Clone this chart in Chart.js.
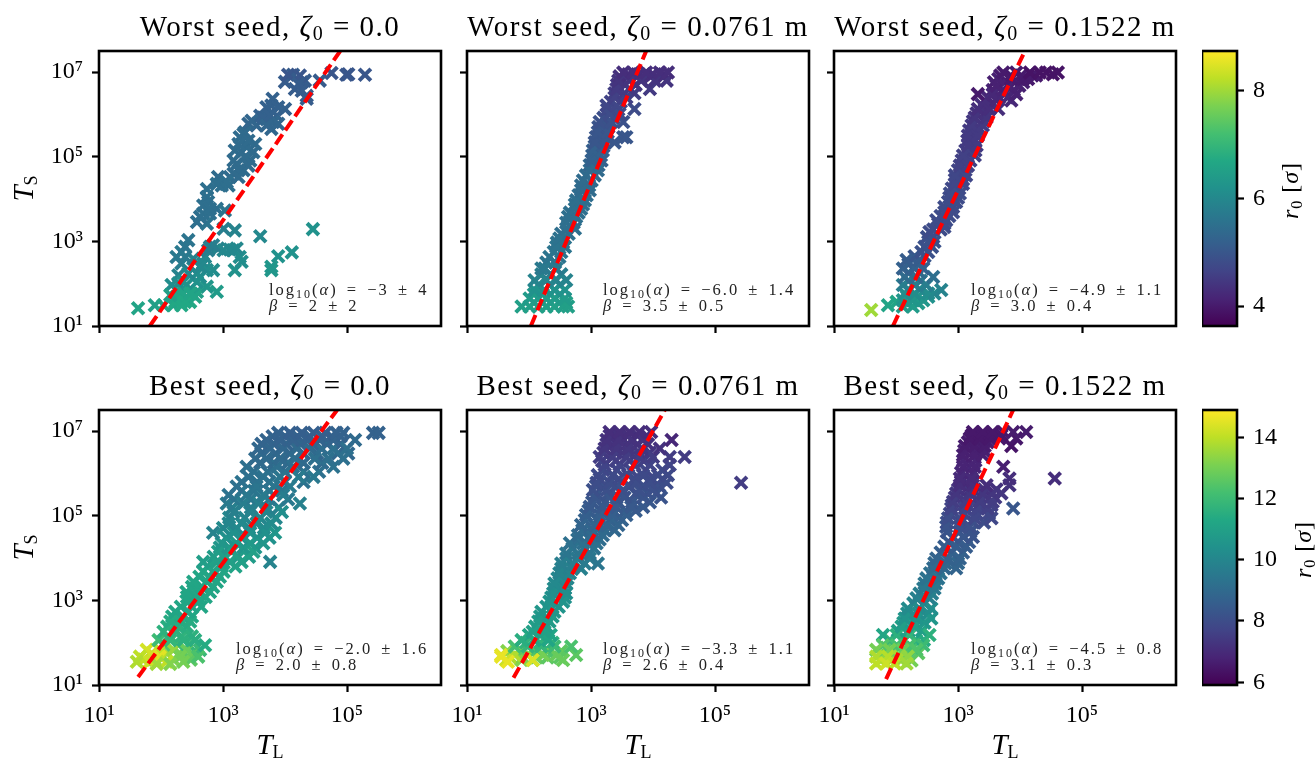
<!DOCTYPE html>
<html>
<head>
<meta charset="utf-8">
<style>
  html, body { margin: 0; padding: 0; background: #fff; width: 1315px; height: 758px; overflow: hidden; }
  canvas { position: absolute; }
</style>
<script src="https://cdn.jsdelivr.net/npm/chart.js@4"></script>
</head>
<body>
<script>
// all T_L / T_S values are log10
const worstZeroLogTL = [
  5.29,5.02,4.99,4.75,4.56,4.13,4.00,4.27,4.32,4.16,
  4.35,4.35,3.80,3.78,4.00,3.60,3.70,3.87,3.81,3.78,
  3.41,3.54,3.35,3.27,3.52,3.38,3.19,3.30,3.44,3.22,
  3.33,3.17,2.92,2.98,3.09,2.74,2.74,2.76,2.90,3.03,
  2.68,2.58,2.74,3.01,3.19,3.60,4.45,2.44,2.33,2.79,
  2.92,3.17,3.27,4.11,3.89,3.78,3.78,3.19,2.84,2.33,
  2.68,2.58,2.28,2.17,2.36,2.74,2.90,2.49,2.41,2.31,
  2.20,2.47,1.90,1.63,2.04,2.63,2.52,2.31,2.58,3.30,
  3.11,2.71,
  4.05,4.24,4.22,4.27,3.70,3.89,3.65,3.76,3.89,3.70,
  3.46,3.33,3.41,3.25,3.49,3.35,3.17,3.41,3.25,3.11,
  3.25,3.06,2.90,2.68,2.79,2.63,2.79,2.39,2.25,2.39,
  2.76,2.84,3.01,3.22,2.28,2.41,2.58,2.44,2.74,2.63,
  2.25,2.36,2.55,2.39,2.23,2.33,2.47,2.15];
const worstZeroLogTS = [
  6.94,6.95,6.94,6.98,6.80,6.94,6.77,6.76,6.80,6.60,
  6.44,6.37,6.37,6.21,6.13,5.97,5.89,5.97,5.82,5.66,
  5.78,5.74,5.58,5.46,5.30,5.23,5.15,5.11,4.91,4.83,
  4.68,4.60,4.52,4.32,4.32,4.24,4.05,3.93,3.77,3.73,
  3.66,3.46,3.42,3.30,3.26,3.12,3.29,3.03,2.75,2.87,
  2.83,2.79,2.63,2.74,2.65,2.40,2.32,2.32,2.32,2.48,
  2.48,2.24,2.20,1.97,2.04,1.93,1.81,1.77,1.69,1.61,
  1.49,1.57,1.49,1.42,1.49,2.16,2.59,1.73,1.81,2.52,
  2.81,2.63,
  6.94,6.92,6.72,6.56,6.17,6.17,5.93,5.97,5.78,5.74,
  5.85,5.54,5.38,5.30,5.11,4.99,4.91,4.79,4.68,4.52,
  4.52,4.40,4.36,3.85,3.66,3.58,3.77,2.87,2.63,2.63,
  2.79,2.91,2.79,2.83,2.01,1.97,2.04,2.24,2.32,2.40,
  1.69,1.77,1.69,1.57,1.57,1.49,1.77,1.73];
const worstZeroR0 = [
  5.0,5.0,5.0,5.0,5.1,5.1,5.1,5.1,5.1,5.1,
  5.1,5.1,5.2,5.2,5.2,5.2,5.3,5.2,5.3,5.3,
  5.3,5.3,5.4,5.4,5.4,5.4,5.4,5.4,5.4,5.4,
  5.4,5.4,5.4,5.5,5.5,5.5,5.5,5.5,5.5,5.6,
  5.5,5.5,5.6,5.8,5.9,6.0,6.2,5.6,5.7,5.8,
  5.9,6.0,6.1,6.2,6.2,6.3,6.3,6.2,6.1,5.8,
  6.0,6.1,5.9,6.1,6.2,6.3,6.4,6.5,6.6,6.7,
  6.6,6.7,6.5,6.6,6.6,6.1,5.9,6.6,6.5,6.1,
  6.0,6.0,
  5.0,5.0,5.1,5.1,5.2,5.2,5.2,5.2,5.3,5.3,
  5.3,5.4,5.4,5.4,5.4,5.4,5.4,5.4,5.4,5.4,
  5.4,5.5,5.5,5.5,5.5,5.5,5.5,5.6,5.7,5.7,
  5.8,5.8,6.0,6.0,6.1,6.2,6.2,6.0,6.1,6.0,
  6.6,6.6,6.6,6.7,6.7,6.7,6.6,6.5];

const worstMidLogTL = [
  2.08,2.22,2.35,2.49,2.60,
  2.08,2.22,2.35,2.50,
  2.15,2.33,2.50,
  2.20,2.35,2.52,
  2.28,2.42,
  2.40,2.52,
  2.45,2.55,
  2.52,2.64,
  2.60,2.72,
  2.66,2.80,
  2.74,2.87,
  2.80,2.93,
  2.84,2.97,
  2.92,3.06,
  2.98,3.12,
  3.02,3.16,
  3.06,3.20,
  3.08,3.24,
  3.12,3.28,
  3.20,3.36,
  3.26,3.44,
  3.32,3.48,
  3.38,3.54,3.70,
  3.42,3.55,3.72,
  3.46,3.58,3.74,3.96,4.17,
  3.60,3.78,4.00,4.18,
  1.88,2.01,2.15,2.28,2.41,2.55,2.63,
  2.01,2.15,2.28,2.41,2.58,
  2.09,2.25,2.41,2.58,
  2.09,2.28,2.44,2.60,
  2.25,2.44,2.20,
  2.33,2.49,
  2.44,2.58,
  2.49,
  2.60,2.74,
  2.63,2.76,
  2.74,2.84,
  2.76,2.90,
  2.84,2.98,
  2.87,3.01,
  2.98,3.11,
  3.01,3.17,
  3.03,3.19,
  3.06,3.22,3.38,
  3.52,3.57,
  3.11,3.27,
  3.14,3.33,3.52,
  3.30,3.46,
  3.70,
  3.25,3.41,
  3.38,3.57,
  3.41,3.62,3.95,
  3.44,3.62,3.81,4.03,4.22,
  3.52,3.68,3.89,4.11,4.24];
const worstMidLogTS = [
  1.55,1.55,1.55,1.55,1.55,
  1.75,1.75,1.75,1.75,
  1.97,1.97,1.97,
  2.22,2.22,2.22,
  2.50,2.50,
  2.75,2.75,
  2.97,2.97,
  3.18,3.18,
  3.44,3.44,
  3.68,3.68,
  3.87,3.87,
  4.09,4.09,
  4.32,4.32,
  4.56,4.56,
  4.80,4.80,
  5.03,5.03,
  5.25,5.25,
  5.46,5.46,
  5.70,5.70,
  5.92,5.92,
  6.11,6.11,
  6.30,6.30,
  6.50,6.50,6.50,
  6.70,6.70,6.70,
  6.90,6.90,6.90,6.90,6.90,
  6.95,6.95,6.95,6.95,
  1.46,1.46,1.46,1.46,1.46,1.46,1.46,
  1.65,1.65,1.65,1.65,1.65,
  1.85,1.85,1.85,1.85,
  2.08,2.08,2.08,2.08,
  2.36,2.36,2.36,
  2.63,2.63,
  2.87,2.87,
  3.07,
  3.30,3.30,
  3.58,3.58,
  3.77,3.77,
  3.97,3.97,
  4.21,4.21,
  4.44,4.44,
  4.68,4.68,
  4.91,4.91,
  5.15,5.15,
  5.34,5.34,5.34,
  5.46,5.46,
  5.58,5.58,
  5.82,5.82,5.82,
  6.01,6.01,
  6.13,
  6.21,6.21,
  6.40,6.40,
  6.60,6.60,6.60,
  6.80,6.80,6.80,6.80,6.80,
  6.99,6.99,6.99,6.99,6.99];
const worstMidR0 = [
  6.5,6.5,6.5,6.5,6.5,
  6.3,6.3,6.3,6.3,
  6.0,6.0,6.0,
  5.8,5.8,5.8,
  5.6,5.6,
  5.6,5.6,
  5.55,5.55,
  5.5,5.5,
  5.5,5.5,
  5.5,5.5,
  5.5,5.5,
  5.45,5.45,
  5.4,5.4,
  5.4,5.4,
  5.3,5.3,
  5.2,5.2,
  5.1,5.1,
  5.0,5.0,
  4.95,4.95,
  4.85,4.85,
  4.75,4.75,
  4.65,4.65,
  4.55,4.55,4.55,
  4.45,4.45,4.45,
  4.35,4.35,4.35,4.35,4.35,
  4.3,4.3,4.3,4.3,
  6.5,6.5,6.5,6.5,6.5,6.5,6.5,
  6.4,6.4,6.4,6.4,6.4,
  6.2,6.2,6.2,6.2,
  5.9,5.9,5.9,5.9,
  5.7,5.7,5.7,
  5.6,5.6,
  5.6,5.6,
  5.55,
  5.5,5.5,
  5.5,5.5,
  5.5,5.5,
  5.5,5.5,
  5.4,5.4,
  5.4,5.4,
  5.4,5.4,
  5.2,5.2,
  5.2,5.2,
  5.0,5.0,5.0,
  5.0,5.0,
  5.0,5.0,
  4.9,4.9,4.9,
  4.8,4.8,
  4.8,
  4.7,4.7,
  4.6,4.6,
  4.5,4.5,4.5,
  4.4,4.4,4.4,4.4,4.4,
  4.3,4.3,4.3,4.3,4.3];

const worstHighLogTL = [
  2.18,2.36,
  2.18,2.35,2.52,
  2.20,2.38,
  2.20,2.40,
  2.20,2.38,
  2.20,2.35,
  2.30,2.46,
  2.46,2.58,
  2.50,2.60,
  2.60,2.72,
  2.68,2.78,
  2.72,2.86,
  2.78,2.92,
  2.86,3.00,
  2.90,3.02,
  2.95,3.08,
  3.00,3.12,
  3.06,3.20,
  3.12,3.28,
  3.15,3.28,
  3.18,3.34,
  3.24,3.42,
  3.30,3.45,
  3.38,3.54,
  3.48,3.66,3.80,
  3.56,3.72,3.90,
  3.58,3.75,3.92,4.05,
  3.68,3.85,4.02,4.20,4.26,
  1.60,1.87,2.01,
  2.11,2.27,
  2.11,2.27,2.44,
  2.14,2.30,2.52,2.62,
  2.73,
  2.11,2.30,2.49,
  2.60,
  2.14,2.33,
  2.11,2.30,2.44,
  2.17,2.38,
  2.41,2.52,
  2.52,2.62,
  2.54,
  2.78,
  2.65,2.81,
  2.78,2.92,
  2.84,2.97,
  2.87,3.03,
  2.95,3.08,
  2.95,3.13,
  3.03,3.16,
  3.08,3.27,
  3.16,3.30,
  3.16,3.32,
  3.22,3.40,
  3.27,3.46,
  3.32,3.51,3.65,
  3.43,3.62,3.86,
  3.32,3.56,3.75,3.94,
  3.62,3.81,3.99,
  3.65,3.86,4.05,4.13,
  3.73,3.94,4.16,4.32,4.42,4.61,
  4.53];
const worstHighLogTS = [
  1.54,1.54,
  1.69,1.69,1.69,
  1.87,1.87,
  2.07,2.07,
  2.26,2.26,
  2.46,2.46,
  2.65,2.65,
  2.87,2.87,
  3.10,3.10,
  3.28,3.28,
  3.42,3.42,
  3.60,3.60,
  3.81,3.81,
  4.03,4.03,
  4.25,4.25,
  4.46,4.46,
  4.68,4.68,
  4.91,4.91,
  5.15,5.15,
  5.38,5.38,
  5.62,5.62,
  5.84,5.84,
  6.03,6.03,
  6.23,6.23,
  6.40,6.40,6.40,
  6.58,6.58,6.58,
  6.76,6.76,6.76,6.76,
  6.92,6.92,6.92,6.92,6.92,
  1.38,1.49,1.57,
  1.46,1.46,
  1.61,1.61,1.61,
  1.77,1.77,1.77,1.77,
  1.85,
  1.97,1.97,1.97,
  2.16,
  2.16,2.16,
  2.36,2.36,2.36,
  2.56,2.56,
  2.75,2.75,
  2.99,2.99,
  3.22,
  3.34,
  3.50,3.50,
  3.69,3.69,
  3.93,3.93,
  4.13,4.13,
  4.36,4.36,
  4.56,4.56,
  4.79,4.79,
  5.03,5.03,
  5.27,5.27,
  5.50,5.50,
  5.74,5.74,
  5.93,5.93,
  6.13,6.13,6.13,
  6.33,6.33,6.33,
  6.48,6.48,6.48,6.48,
  6.68,6.68,6.68,
  6.84,6.84,6.84,6.84,
  6.99,6.99,6.99,6.99,6.99,6.99,
  6.95];
const worstHighR0 = [
  6.4,6.4,
  6.2,6.2,6.2,
  6.0,6.0,
  5.7,5.7,
  5.4,5.4,
  5.1,5.1,
  5.0,5.0,
  4.9,4.9,
  4.85,4.85,
  4.8,4.8,
  4.8,4.8,
  4.8,4.8,
  4.8,4.8,
  4.8,4.8,
  4.75,4.75,
  4.7,4.7,
  4.65,4.65,
  4.6,4.6,
  4.55,4.55,
  4.5,4.5,
  4.5,4.5,
  4.45,4.45,
  4.35,4.35,
  4.3,4.3,
  4.2,4.2,4.2,
  4.15,4.15,4.15,
  4.05,4.05,4.05,4.05,
  4.0,4.0,4.0,4.0,4.0,
  8.0,6.6,6.6,
  6.4,6.4,
  6.3,6.3,6.3,
  6.1,6.1,6.1,6.0,
  5.9,
  5.8,5.8,5.8,
  5.5,
  5.4,5.4,
  5.2,5.2,5.2,
  5.1,5.1,
  4.9,4.9,
  4.9,4.9,
  4.8,
  4.8,
  4.8,4.8,
  4.8,4.8,
  4.8,4.8,
  4.8,4.8,
  4.7,4.7,
  4.7,4.7,
  4.6,4.6,
  4.6,4.6,
  4.5,4.5,
  4.5,4.5,
  4.5,4.5,
  4.4,4.4,
  4.3,4.3,4.3,
  4.3,4.2,4.2,
  4.0,4.2,4.2,4.1,
  4.1,4.1,4.1,
  4.1,4.0,4.0,4.0,
  4.0,4.0,3.9,3.9,3.9,3.9,
  3.9];

const bestZeroLogTL = [
  1.72,1.90,2.20,2.48,
  1.85,2.10,2.30,2.50,
  2.05,2.28,2.45,
  2.12,2.33,2.50,
  2.10,2.28,2.42,
  2.18,2.35,2.50,
  2.32,2.50,2.65,
  2.42,2.58,2.72,
  2.50,2.66,2.84,
  2.62,2.78,2.95,
  2.75,2.98,3.20,
  2.85,3.03,3.25,3.42,
  2.95,3.10,3.33,3.52,
  3.05,3.30,3.55,3.75,
  3.00,3.22,3.42,3.66,
  3.10,3.35,3.60,3.85,
  3.15,3.45,3.70,3.90,
  3.18,3.45,3.75,4.05,
  3.30,3.50,3.75,3.95,
  3.30,3.55,3.75,4.00,4.30,
  3.50,3.72,4.00,4.30,4.55,
  3.60,3.82,4.05,4.30,4.60,
  3.62,3.85,4.08,4.30,4.52,4.85,5.02,
  3.62,3.82,4.02,4.25,4.45,4.68,4.90,
  3.80,4.00,4.20,4.40,4.60,4.75,4.90,
  1.98,2.20,2.41,1.77,2.63,
  2.60,1.66,1.98,2.31,
  1.61,1.82,2.09,2.36,
  1.93,2.15,
  1.96,2.15,2.36,2.55,2.71,
  2.04,2.25,
  2.15,2.31,2.47,
  2.23,2.44,
  2.44,2.60,
  2.41,2.63,2.79,
  2.52,2.74,2.90,
  2.68,2.84,3.01,
  2.68,2.90,3.11,3.30,3.76,
  2.92,3.14,3.49,
  2.98,3.22,3.44,3.65,
  2.84,3.17,3.44,3.68,3.84,
  3.09,3.30,3.54,3.78,
  3.17,3.44,3.70,3.95,
  3.06,3.33,3.57,4.24,
  3.09,3.38,3.65,3.97,
  3.22,3.54,3.82,4.08,
  3.41,3.65,3.92,4.22,4.46,
  3.38,3.87,4.13,4.78,
  3.52,3.70,3.92,4.16,4.48,4.70,4.94,
  3.57,3.76,3.97,4.19,4.40,4.59,4.78,5.00,
  3.70,3.92,4.13,4.35,4.56,4.78,5.13,
  3.89,4.08,4.27,4.46,4.65,4.83,4.94,5.42,5.51];
const bestZeroLogTS = [
  1.60,1.60,1.60,1.60,
  1.75,1.75,1.75,1.75,
  1.95,1.95,1.95,
  2.15,2.15,2.15,
  2.38,2.38,2.38,
  2.62,2.62,2.62,
  2.85,2.85,2.85,
  3.08,3.08,3.08,
  3.32,3.32,3.32,
  3.56,3.56,3.56,
  3.80,3.80,3.80,
  4.03,4.03,4.03,4.03,
  4.25,4.25,4.25,4.25,
  4.48,4.48,4.48,4.48,
  4.71,4.71,4.71,4.71,
  4.95,4.95,4.95,4.95,
  5.19,5.19,5.19,5.19,
  5.39,5.39,5.39,5.39,
  5.59,5.59,5.59,5.59,
  5.80,5.80,5.80,5.80,5.80,
  6.04,6.04,6.04,6.04,6.04,
  6.25,6.25,6.25,6.25,6.25,
  6.47,6.47,6.47,6.47,6.47,6.47,6.47,
  6.70,6.70,6.70,6.70,6.70,6.70,6.70,
  6.88,6.88,6.88,6.88,6.88,6.88,6.88,
  1.83,1.83,1.83,1.83,1.83,
  1.67,1.67,1.67,1.67,
  1.55,1.55,1.55,1.55,
  1.50,1.50,
  2.06,2.06,2.06,2.06,1.94,
  2.26,2.26,
  2.50,2.50,2.50,
  2.73,2.73,
  2.97,2.97,
  3.20,3.20,3.20,
  3.44,3.44,3.44,
  3.68,3.68,3.68,
  3.91,3.91,3.91,3.91,3.91,
  4.15,4.15,4.15,
  4.35,4.35,4.35,4.35,
  4.60,4.60,4.60,4.60,4.60,
  4.82,4.82,4.82,4.82,
  5.09,5.09,5.09,5.09,
  5.29,5.29,5.29,5.29,
  5.49,5.49,5.49,5.49,
  5.69,5.69,5.69,5.69,
  5.92,5.92,5.92,5.92,5.92,
  6.16,6.16,6.16,6.16,
  6.35,6.35,6.35,6.35,6.35,6.35,6.35,
  6.59,6.59,6.59,6.59,6.59,6.59,6.59,6.59,
  6.79,6.79,6.79,6.79,6.79,6.79,6.79,
  6.96,6.96,6.96,6.96,6.96,6.96,6.96,6.96,6.96];
const bestZeroR0 = [
  14.0,13.6,13.2,12.6,
  14.2,13.6,13.0,12.6,
  12.4,12.0,11.8,
  11.8,11.7,11.6,
  11.5,11.5,11.5,
  11.3,11.3,11.3,
  11.2,11.2,11.2,
  11.2,11.2,11.2,
  11.2,11.2,11.2,
  11.2,11.2,11.2,
  11.1,11.1,11.1,
  10.8,10.8,10.8,10.8,
  10.6,10.6,10.6,10.6,
  10.4,10.4,10.4,10.4,
  10.2,10.2,10.2,10.2,
  10.0,10.0,10.0,10.0,
  9.8,9.8,9.8,9.8,
  9.5,9.5,9.5,9.5,
  9.4,9.4,9.4,9.4,
  9.3,9.3,9.3,9.3,9.3,
  9.2,9.2,9.2,9.2,9.2,
  9.0,9.0,9.0,9.0,9.0,
  8.9,8.9,8.9,8.9,8.9,8.9,8.9,
  8.8,8.8,8.8,8.8,8.8,8.8,8.8,
  8.7,8.7,8.7,8.7,8.7,8.7,8.7,
  14.0,13.5,12.8,14.3,11.9,
  12.3,14.0,14.5,13.0,
  13.8,14.2,14.0,13.0,
  13.6,13.2,
  12.0,11.8,11.6,11.5,11.4,
  11.6,11.6,
  11.4,11.4,11.4,
  11.2,11.2,
  11.2,11.2,
  11.2,11.2,11.2,
  11.2,11.2,11.2,
  11.2,11.2,11.2,
  10.9,11.0,11.0,11.0,9.9,
  10.9,11.0,11.0,
  10.6,10.7,10.7,10.6,
  9.9,10.4,10.4,10.4,10.6,
  10.0,10.1,10.2,10.2,
  9.8,9.9,10.0,10.3,
  9.6,9.7,9.8,9.8,
  9.3,9.5,9.6,9.7,
  9.2,9.4,9.4,9.6,
  9.2,9.3,9.4,9.6,9.5,
  9.2,9.2,9.3,9.3,
  9.0,9.0,9.0,9.1,9.2,9.2,9.2,
  8.9,8.9,8.9,9.0,9.0,9.1,9.2,9.2,
  8.8,8.7,8.7,8.7,8.8,8.8,9.0,
  8.7,8.6,8.6,8.6,8.6,8.7,8.7,8.7,8.7];

const bestMidLogTL = [
  1.70,1.90,2.12,2.30,2.50,
  1.65,1.88,2.08,2.30,2.52,
  1.95,2.18,2.38,
  2.00,2.18,2.35,
  2.10,2.28,
  2.18,2.38,
  2.28,2.48,
  2.36,2.58,
  2.40,2.58,2.48,
  2.46,2.62,
  2.52,2.70,2.84,
  2.60,2.78,2.98,
  2.70,2.90,3.05,
  2.78,2.98,3.14,
  2.86,3.02,3.22,3.38,
  2.90,3.10,3.30,3.50,
  2.96,3.16,3.36,3.56,3.72,
  3.02,3.22,3.44,3.66,3.95,
  3.08,3.28,3.50,3.72,3.92,4.05,
  3.08,3.20,3.42,3.62,3.85,4.10,
  3.14,3.45,3.70,3.95,4.15,
  3.20,3.42,3.64,3.88,4.15,
  3.18,3.40,3.62,3.85,
  3.20,3.40,3.60,3.78,3.95,
  3.25,3.42,3.60,3.75,3.92,
  3.30,3.45,3.60,3.75,3.90,
  1.63,1.88,2.06,2.55,
  1.55,1.77,1.98,2.23,2.44,2.76,
  1.77,1.98,2.20,2.41,2.68,
  1.88,2.09,2.31,
  2.06,2.25,
  2.15,2.33,
  2.20,2.41,
  2.33,2.55,
  2.39,2.60,
  2.41,2.60,
  2.49,2.66,
  2.52,2.71,2.90,3.11,
  2.60,2.79,2.98,
  2.66,2.87,3.09,
  2.79,3.01,3.19,
  2.84,3.06,3.25,3.44,
  2.92,3.14,3.35,3.57,
  2.98,3.19,3.41,3.65,3.84,
  3.06,3.30,3.54,3.84,4.13,
  3.03,3.25,3.52,3.78,4.00,
  3.09,3.30,3.73,3.95,4.22,5.42,
  3.11,3.35,3.60,3.84,4.08,4.24,
  3.22,3.46,3.70,3.95,4.27,
  3.14,3.35,3.57,3.78,4.00,4.27,4.51,
  3.22,3.41,3.60,3.81,4.11,
  3.25,3.44,3.65,3.84,4.30,
  3.30,3.46,3.62,3.78,3.97,
  1.55,1.66,2.06];
const bestMidLogTS = [
  1.65,1.65,1.65,1.65,1.65,
  1.80,1.80,1.80,1.80,1.80,
  2.00,2.00,2.00,
  2.18,2.18,2.18,
  2.38,2.38,
  2.62,2.62,
  2.85,2.85,
  3.07,3.07,
  3.28,3.28,3.28,
  3.52,3.52,
  3.75,3.75,3.75,
  3.99,3.99,3.99,
  4.23,4.23,4.23,
  4.44,4.44,4.44,
  4.66,4.66,4.66,4.66,
  4.90,4.90,4.90,4.90,
  5.12,5.12,5.12,5.12,5.12,
  5.32,5.32,5.32,5.32,5.32,
  5.52,5.52,5.52,5.52,5.52,5.52,
  5.70,5.70,5.70,5.70,5.70,5.70,
  5.87,5.87,5.87,5.87,5.87,
  6.08,6.08,6.08,6.08,6.08,
  6.30,6.30,6.30,6.30,
  6.49,6.49,6.49,6.49,6.49,
  6.69,6.69,6.69,6.69,6.69,
  6.89,6.89,6.89,6.89,6.89,
  1.59,1.59,1.59,1.59,
  1.71,1.71,1.71,1.71,1.71,1.71,
  1.91,1.91,1.91,1.91,1.91,
  2.06,2.06,2.06,
  2.26,2.26,
  2.50,2.50,
  2.73,2.73,
  2.97,2.97,
  3.17,3.17,
  3.40,3.40,
  3.64,3.64,
  3.87,3.87,3.87,3.87,
  4.11,4.11,4.11,
  4.35,4.35,4.35,
  4.54,4.54,4.54,
  4.78,4.78,4.78,4.78,
  5.02,5.02,5.02,5.02,
  5.21,5.21,5.21,5.21,5.21,
  5.43,5.43,5.43,5.43,5.43,
  5.61,5.61,5.61,5.61,5.61,
  5.78,5.78,5.78,5.78,5.78,5.78,
  5.96,5.96,5.96,5.96,5.96,5.96,
  6.20,6.20,6.20,6.20,6.20,
  6.39,6.39,6.39,6.39,6.39,6.39,6.39,
  6.59,6.59,6.59,6.59,6.59,
  6.79,6.79,6.79,6.79,6.79,
  6.98,6.98,6.98,6.98,6.98,
  1.67,1.55,1.59];
const bestMidR0 = [
  13.8,13.2,12.8,12.6,12.6,
  13.2,12.6,12.3,12.4,12.6,
  11.7,11.7,11.7,
  11.2,11.2,11.2,
  10.9,10.9,
  10.7,10.7,
  10.5,10.5,
  10.4,10.4,
  10.2,10.2,10.2,
  10.0,10.0,
  9.8,9.8,9.8,
  9.5,9.5,9.5,
  9.3,9.3,9.3,
  9.1,9.1,9.1,
  8.9,8.9,8.9,8.9,
  8.7,8.7,8.7,8.7,
  8.5,8.5,8.5,8.5,8.5,
  8.35,8.35,8.35,8.35,8.35,
  8.2,8.2,8.2,8.2,8.2,8.2,
  8.05,8.05,8.05,8.05,8.05,8.05,
  7.95,7.95,7.95,7.95,7.95,
  7.8,7.8,7.8,7.8,7.8,
  7.6,7.6,7.6,7.6,
  7.4,7.4,7.4,7.4,7.4,
  7.25,7.25,7.25,7.25,7.25,
  7.15,7.15,7.15,7.15,7.15,
  14.2,13.2,13.0,12.8,
  14.5,13.8,13.3,13.0,12.8,12.6,
  12.2,11.8,11.8,12.0,12.3,
  11.5,11.3,11.2,
  11.0,11.0,
  10.8,10.8,
  10.6,10.6,
  10.5,10.5,
  10.3,10.3,
  10.1,10.1,
  9.9,9.9,
  9.7,9.7,9.6,9.4,
  9.4,9.4,9.4,
  9.2,9.2,9.2,
  9.0,9.0,9.0,
  8.8,8.8,8.8,8.8,
  8.6,8.6,8.6,8.6,
  8.4,8.4,8.4,8.4,8.4,
  8.3,8.3,8.2,8.2,8.2,
  8.1,8.1,8.1,8.1,8.1,
  8.0,8.0,8.0,8.0,8.0,7.5,
  7.9,7.9,7.9,7.9,7.9,7.9,
  7.7,7.7,7.7,7.7,7.7,
  7.5,7.5,7.5,7.5,7.5,7.5,7.5,
  7.3,7.3,7.3,7.3,7.2,
  7.2,7.2,7.2,7.2,6.9,
  7.1,7.1,7.1,7.1,7.1,
  14.6,14.6,14.4];

const bestHighLogTL = [
  1.75,1.92,2.08,2.25,
  1.75,1.96,2.16,2.36,
  1.85,2.05,2.27,
  1.90,2.10,2.32,2.45,
  2.03,2.20,2.42,
  2.12,2.30,2.46,
  2.18,2.36,2.52,
  2.28,2.46,
  2.38,2.58,
  2.46,2.64,
  2.55,2.72,
  2.62,2.80,3.00,
  2.72,2.90,3.08,
  2.85,3.00,3.18,
  2.82,3.02,3.20,
  2.82,3.05,3.25,3.42,
  2.87,3.10,3.30,3.50,
  2.90,3.12,3.34,3.54,
  2.95,3.15,3.37,3.60,
  3.00,3.20,3.42,3.62,
  3.05,3.22,
  3.05,3.25,
  3.08,3.28,
  3.10,3.28,3.42,
  3.16,3.32,3.48,
  3.22,3.38,3.54,3.70,
  1.79,2.01,2.22,2.54,
  1.79,2.01,2.22,2.44,
  1.68,1.90,2.11,2.33,
  1.68,1.87,2.06,2.19,
  1.68,1.84,1.98,2.17,
  2.09,2.30,
  2.14,2.33,2.57,
  2.19,2.38,2.57,
  2.33,2.54,
  2.44,2.62,
  2.49,2.68,
  2.60,2.78,2.97,
  2.65,2.84,3.03,
  2.78,2.97,3.13,
  2.92,3.08,3.24,
  2.81,3.03,3.19,
  2.84,3.03,3.27,3.54,
  2.89,3.11,3.32,3.48,3.89,
  2.92,3.13,3.35,3.56,
  2.97,3.19,3.40,3.56,3.70,
  3.03,3.24,3.46,3.83,
  3.03,3.22,3.83,4.56,
  3.08,3.27,3.73,
  3.08,3.27,3.40,
  3.11,3.27,3.43,3.86,
  3.19,3.35,3.51,3.67,3.94,
  3.24,3.40,3.56,3.73,3.89,4.10];
const bestHighLogTS = [
  1.58,1.58,1.58,1.58,
  1.75,1.75,1.75,1.75,
  1.88,1.88,1.88,
  2.06,2.06,2.06,2.06,
  2.28,2.28,2.28,
  2.47,2.47,2.47,
  2.69,2.69,2.69,
  2.93,2.93,
  3.16,3.16,
  3.40,3.40,
  3.64,3.64,
  3.88,3.88,3.88,
  4.13,4.13,4.13,
  4.38,4.38,4.38,
  4.62,4.62,4.62,
  4.84,4.84,4.84,4.84,
  5.05,5.05,5.05,5.05,
  5.25,5.25,5.25,5.25,
  5.43,5.43,5.43,5.43,
  5.62,5.62,5.62,5.62,
  5.80,5.80,
  6.02,6.02,
  6.30,6.30,
  6.54,6.54,6.54,
  6.74,6.74,6.74,
  6.90,6.90,6.90,6.90,
  2.18,2.18,2.18,2.18,
  1.94,1.94,1.94,1.94,
  1.83,1.83,1.83,1.83,
  1.67,1.67,1.67,1.67,
  1.51,1.51,1.51,1.51,
  2.38,2.38,
  2.57,2.57,2.57,
  2.81,2.81,2.81,
  3.05,3.05,
  3.28,3.28,
  3.52,3.52,
  3.76,3.76,3.76,
  3.99,3.99,3.99,
  4.27,4.27,4.27,
  4.50,4.50,4.50,
  4.74,4.74,4.74,
  4.94,4.94,4.94,4.94,
  5.17,5.17,5.17,5.17,5.17,
  5.33,5.33,5.33,5.33,
  5.53,5.53,5.53,5.53,5.53,
  5.72,5.72,5.72,5.72,
  5.88,5.88,5.88,5.88,
  6.16,6.16,6.16,
  6.43,6.43,6.43,
  6.65,6.65,6.65,6.65,
  6.83,6.83,6.83,6.83,6.83,
  6.98,6.98,6.98,6.98,6.98,6.98];
const bestHighR0 = [
  13.9,13.8,13.5,13.0,
  13.4,13.3,13.0,12.6,
  12.6,12.4,12.2,
  11.8,11.7,11.6,11.4,
  11.0,11.0,11.0,
  10.7,10.7,10.7,
  10.3,10.3,10.3,
  10.0,10.0,
  9.7,9.7,
  9.4,9.4,
  9.2,9.2,
  8.9,8.9,8.9,
  8.6,8.6,8.6,
  8.4,8.4,8.4,
  8.2,8.2,8.2,
  8.0,8.0,8.0,8.0,
  7.8,7.8,7.8,7.8,
  7.6,7.6,7.6,7.6,
  7.4,7.4,7.4,7.4,
  7.2,7.2,7.2,7.2,
  7.0,7.0,
  6.9,6.9,
  6.8,6.8,
  6.7,6.7,6.7,
  6.6,6.6,6.6,
  6.5,6.5,6.5,6.5,
  11.2,11.6,11.8,11.6,
  12.4,12.2,12.2,12.0,
  13.0,13.0,12.8,12.4,
  13.8,13.9,13.7,13.4,
  14.0,14.2,14.0,13.6,
  10.9,10.9,
  10.5,10.5,10.6,
  10.2,10.2,10.3,
  9.8,9.8,
  9.5,9.5,
  9.3,9.3,
  9.0,8.9,8.8,
  8.8,8.7,8.7,
  8.5,8.5,8.5,
  8.3,8.3,8.2,
  8.2,8.1,8.1,
  8.0,7.9,7.8,7.8,
  7.7,7.7,7.7,7.6,8.3,
  7.5,7.5,7.5,7.5,
  7.3,7.3,7.3,7.3,7.3,
  7.1,7.1,7.1,7.2,
  7.0,7.0,7.1,7.1,
  6.8,6.8,6.7,
  6.7,6.7,6.7,
  6.6,6.6,6.6,6.4,
  6.5,6.5,6.5,6.5,6.5,
  6.5,6.5,6.5,6.5,6.6,6.6];

// fit lines, two ends of each
const worstZeroFitTL = [1.82, 4.89], worstZeroFitTS = [1.0, 7.5];
const worstMidFitTL = [2.03, 3.89], worstMidFitTS = [1.0, 7.5];
const worstHighFitTL = [1.95, 4.08], worstHighFitTS = [1.0, 7.5];
const bestZeroFitTL = [1.63, 4.84], bestZeroFitTS = [1.19, 7.5];
const bestMidFitTL = [1.75, 4.19], bestMidFitTS = [1.17, 7.5];
const bestHighFitTL = [1.84, 3.89], bestHighFitTS = [1.14, 7.5];

const xTicks = [10, 1e3, 1e5];
const yTicks = [10, 1e3, 1e5, 1e7];
const tickLabels = { 10: "10¹", 1000: "10³", 100000: "10⁵", 10000000: "10⁷" };
const worstBarTicks = [4, 6, 8];
const bestBarTicks = [6, 8, 10, 12, 14];

const VIRIDIS = [
  [68, 1, 84], [72, 36, 117], [65, 68, 135], [53, 95, 141], [42, 120, 142], [33, 145, 140],
  [34, 168, 132], [68, 191, 112], [122, 209, 81], [189, 223, 38], [253, 231, 37],
];

const FONT = "'Liberation Serif'";
const BLACK = "#000";

const viridis = (t) => {
  const p = Math.min(Math.max(t, 0), 1) * (VIRIDIS.length - 1);
  const i = Math.min(Math.floor(p), VIRIDIS.length - 2);
  const c = VIRIDIS[i].map((v, k) => Math.round(v + (VIRIDIS[i + 1][k] - v) * (p - i)));
  return `rgb(${c[0]}, ${c[1]}, ${c[2]})`;
};
const VIRIDIS_MID = viridis(0.5);

// draws mixed runs of text (italic, sub/superscript), which the title plugin can't do
const textPlugin = (items) => ({
  id: "mathText",
  afterDraw(chart) {
    const ctx = chart.ctx;
    const a = chart.chartArea;
    items.forEach((item) => {
      const [x, y] = item.at(a);
      ctx.save();
      ctx.translate(x, y);
      if (item.rotate) ctx.rotate(-Math.PI / 2);
      ctx.fillStyle = item.color || BLACK;
      ctx.textBaseline = "alphabetic";
      ctx.textAlign = "left";
      ctx.letterSpacing = (item.spacing || 0) + "px";
      ctx.wordSpacing = (item.wordGap || 0) + "px";
      const fontOf = (r) => `${r.italic ? "italic " : ""}${r.size || item.size}px ${FONT}`;
      let width = 0;
      item.runs.forEach((r) => {
        ctx.font = fontOf(r);
        width += ctx.measureText(r.text).width;
      });
      let pen = item.center ? -width / 2 : 0;
      item.runs.forEach((r) => {
        ctx.font = fontOf(r);
        ctx.fillText(r.text, pen, r.dy || 0);
        pen += ctx.measureText(r.text).width;
      });
      ctx.restore();
    });
  },
});

const framePlugin = {
  id: "frame",
  afterDraw(chart) {
    const a = chart.chartArea;
    chart.ctx.save();
    chart.ctx.strokeStyle = BLACK;
    chart.ctx.lineWidth = 2.6;
    chart.ctx.strokeRect(a.left, a.top, a.right - a.left, a.bottom - a.top);
    chart.ctx.restore();
  },
};

const addCanvas = (left, top, width, height) => {
  const canvas = document.createElement("canvas");
  canvas.width = width;
  canvas.height = height;
  canvas.style.left = left + "px";
  canvas.style.top = top + "px";
  canvas.style.width = width + "px";
  canvas.style.height = height + "px";
  document.body.appendChild(canvas);
  return canvas;
};

const PAD = { left: 99, right: 20, top: 51, bottom: 73 };
const PANEL_W = 342;
const PANEL_H = 275;

const logAxis = (ticks, max, showLabels, fit) => ({
  type: "logarithmic",
  min: 10,
  max: max,
  border: { display: false },
  grid: { drawOnChartArea: false, drawTicks: true, tickLength: 7, tickWidth: 2.2, color: BLACK },
  ticks: {
    autoSkip: false,
    maxRotation: 0,
    padding: 9,
    color: BLACK,
    font: { family: FONT, size: 24 },
    callback: (v) => (showLabels ? tickLabels[v] || "" : ""),
  },
  afterBuildTicks: (s) => {
    s.ticks = ticks.map((v) => ({ value: v }));
  },
  afterFit: fit,
});

const drawPanel = (p) => {
  const canvas = addCanvas(p.x - PAD.left, p.y - PAD.top, PAD.left + PANEL_W + PAD.right, PAD.top + PANEL_H + PAD.bottom);
  const title = [
    { text: p.titleStart },
    { text: "ζ", italic: true },
    { text: "0", size: 20, dy: 4 },
    { text: p.titleEnd },
  ];
  const noteStyle = { size: 16.5, spacing: 2, wordGap: 3, color: "#222" };
  const items = [
    { at: (a) => [(a.left + a.right) / 2, a.top - 15], runs: title, size: 29, spacing: 1.5, center: true },
    {
      ...noteStyle,
      at: (a) => [a.left + p.noteX, a.bottom - 31],
      runs: [{ text: "log" }, { text: "10", size: 12, dy: 3 }, { text: "(" }, { text: "α", italic: true }, { text: p.alpha }],
    },
    {
      ...noteStyle,
      at: (a) => [a.left + p.noteX, a.bottom - 15],
      runs: [{ text: "β", italic: true }, { text: p.beta }],
    },
  ];
  if (p.yLabels) {
    items.push({
      at: (a) => [33, (a.top + a.bottom) / 2],
      rotate: true,
      center: true,
      size: 29,
      runs: [{ text: "T", italic: true }, { text: "S", size: 18, dy: 4 }],
    });
  }
  if (p.xLabels) {
    items.push({
      at: (a) => [(a.left + a.right) / 2, a.bottom + 69],
      center: true,
      size: 29,
      runs: [{ text: "T", italic: true }, { text: "L", size: 18, dy: 4 }],
    });
  }
  new Chart(canvas, {
    type: "scatter",
    data: {
      datasets: [
        {
          data: p.fitTL.map((v, i) => ({ x: 10 ** v, y: 10 ** p.fitTS[i] })),
          showLine: true,
          borderColor: "#ff0000",
          borderWidth: 4,
          borderDash: [12, 5],
          pointRadius: 0,
          clip: 0,
          order: 0,
        },
        {
          data: p.logTL.map((v, i) => ({ x: 10 ** v, y: 10 ** p.logTS[i] })),
          pointStyle: "crossRot",
          pointRadius: 8.3,
          pointBorderWidth: 4,
          pointBorderColor: p.r0.map((r) => viridis((r - p.rMin) / (p.rMax - p.rMin))),
          clip: 0,
          order: 1,
        },
      ],
    },
    options: {
      responsive: false,
      animation: false,
      events: [],
      layout: { autoPadding: false, padding: { left: 0, right: PAD.right, top: PAD.top, bottom: 0 } },
      plugins: { legend: { display: false }, tooltip: { enabled: false } },
      scales: {
        x: logAxis(xTicks, 10 ** 6.516, p.xLabels, (s) => { s.height = PAD.bottom; }),
        y: logAxis(yTicks, 10 ** 7.5, p.yLabels, (s) => { s.width = PAD.left; }),
      },
    },
    plugins: [framePlugin, textPlugin(items)],
  });
};

const drawColorbar = (c) => {
  const barW = 35;
  const bottomPad = 40;
  const canvas = addCanvas(1202, c.y - PAD.top, 1315 - 1202, PAD.top + PANEL_H + bottomPad);
  new Chart(canvas, {
    type: "bar",
    data: {
      labels: [""],
      datasets: [
        {
          data: [[c.min, c.max]],
          barPercentage: 1,
          categoryPercentage: 1,
          backgroundColor: (ctx) => {
            const a = ctx.chart.chartArea;
            if (!a) return VIRIDIS_MID;
            const g = ctx.chart.ctx.createLinearGradient(0, a.bottom, 0, a.top);
            VIRIDIS.forEach((_, i) => g.addColorStop(i / (VIRIDIS.length - 1), viridis(i / (VIRIDIS.length - 1))));
            return g;
          },
        },
      ],
    },
    options: {
      responsive: false,
      animation: false,
      events: [],
      layout: { autoPadding: false, padding: { left: 0, right: 0, top: PAD.top, bottom: bottomPad } },
      plugins: { legend: { display: false }, tooltip: { enabled: false } },
      scales: {
        x: { display: false },
        y: {
          position: "right",
          min: c.min,
          max: c.max,
          border: { display: false },
          grid: { drawOnChartArea: false, drawTicks: true, tickLength: 7, tickWidth: 2.2, color: BLACK },
          ticks: {
            autoSkip: false,
            padding: 9,
            color: BLACK,
            font: { family: FONT, size: 24 },
          },
          afterBuildTicks: (s) => {
            s.ticks = c.ticks.map((v) => ({ value: v }));
          },
          afterFit: (s) => { s.width = 1315 - 1202 - barW; },
        },
      },
    },
    plugins: [
      framePlugin,
      textPlugin([
        {
          at: (a) => [c.labelX - 1202, (a.top + a.bottom) / 2 + 2],
          rotate: true,
          center: true,
          size: 24,
          spacing: 1,
          runs: [{ text: "r", italic: true }, { text: "0", size: 16, dy: 4 }, { text: " [" }, { text: "σ", italic: true }, { text: "]" }],
        },
      ]),
    ],
  });
};

const TOP_Y = 51;
const BOTTOM_Y = 410;
const COL_X = [99, 467, 834];
const WORST = { rMin: 3.63, rMax: 8.74 };
const BEST = { rMin: 5.91, rMax: 14.89 };

drawPanel({ ...WORST, x: COL_X[0], y: TOP_Y, titleStart: "Worst seed, ", titleEnd: " = 0.0", alpha: ") = −3 ± 4", beta: " = 2 ± 2", noteX: 170, logTL: worstZeroLogTL, logTS: worstZeroLogTS, r0: worstZeroR0, fitTL: worstZeroFitTL, fitTS: worstZeroFitTS, yLabels: true, xLabels: false });
drawPanel({ ...WORST, x: COL_X[1], y: TOP_Y, titleStart: "Worst seed, ", titleEnd: " = 0.0761 m", alpha: ") = −6.0 ± 1.4", beta: " = 3.5 ± 0.5", noteX: 136, logTL: worstMidLogTL, logTS: worstMidLogTS, r0: worstMidR0, fitTL: worstMidFitTL, fitTS: worstMidFitTS, yLabels: false, xLabels: false });
drawPanel({ ...WORST, x: COL_X[2], y: TOP_Y, titleStart: "Worst seed, ", titleEnd: " = 0.1522 m", alpha: ") = −4.9 ± 1.1", beta: " = 3.0 ± 0.4", noteX: 137, logTL: worstHighLogTL, logTS: worstHighLogTS, r0: worstHighR0, fitTL: worstHighFitTL, fitTS: worstHighFitTS, yLabels: false, xLabels: false });
drawPanel({ ...BEST, x: COL_X[0], y: BOTTOM_Y, titleStart: "Best seed, ", titleEnd: " = 0.0", alpha: ") = −2.0 ± 1.6", beta: " = 2.0 ± 0.8", noteX: 137, logTL: bestZeroLogTL, logTS: bestZeroLogTS, r0: bestZeroR0, fitTL: bestZeroFitTL, fitTS: bestZeroFitTS, yLabels: true, xLabels: true });
drawPanel({ ...BEST, x: COL_X[1], y: BOTTOM_Y, titleStart: "Best seed, ", titleEnd: " = 0.0761 m", alpha: ") = −3.3 ± 1.1", beta: " = 2.6 ± 0.4", noteX: 136, logTL: bestMidLogTL, logTS: bestMidLogTS, r0: bestMidR0, fitTL: bestMidFitTL, fitTS: bestMidFitTS, yLabels: false, xLabels: true });
drawPanel({ ...BEST, x: COL_X[2], y: BOTTOM_Y, titleStart: "Best seed, ", titleEnd: " = 0.1522 m", alpha: ") = −4.5 ± 0.8", beta: " = 3.1 ± 0.3", noteX: 137, logTL: bestHighLogTL, logTS: bestHighLogTS, r0: bestHighR0, fitTL: bestHighFitTL, fitTS: bestHighFitTS, yLabels: false, xLabels: true });

drawColorbar({ y: TOP_Y, min: WORST.rMin, max: WORST.rMax, ticks: worstBarTicks, labelX: 1298 });
drawColorbar({ y: BOTTOM_Y, min: BEST.rMin, max: BEST.rMax, ticks: bestBarTicks, labelX: 1311 });
</script>
</body>
</html>
